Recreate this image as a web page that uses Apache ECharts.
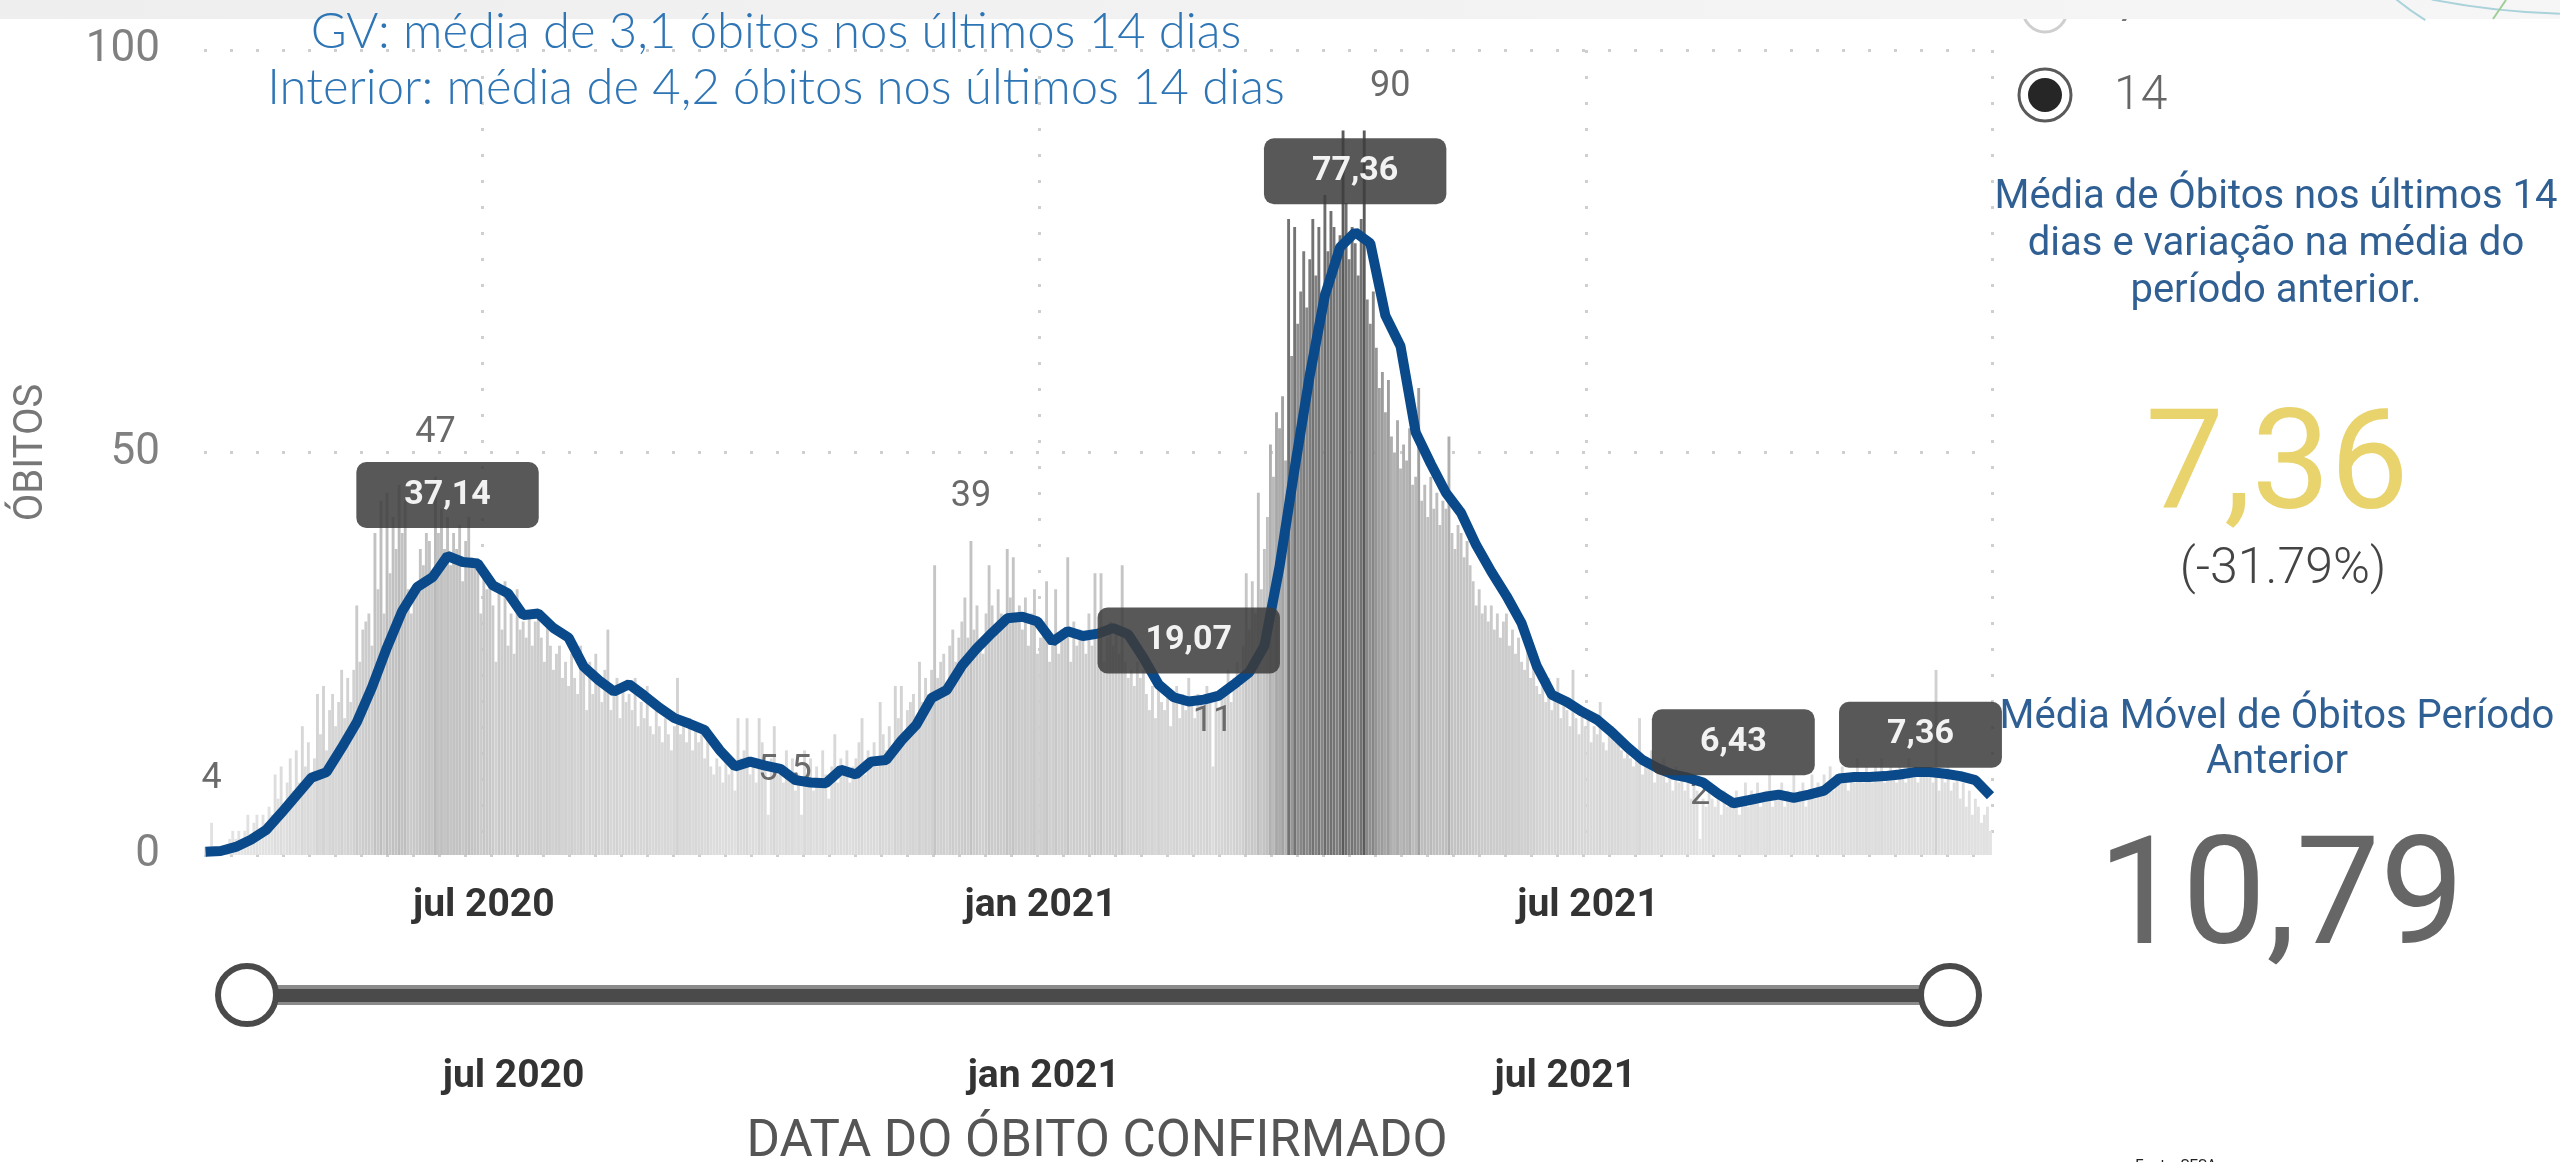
<!DOCTYPE html>
<html>
<head>
<meta charset="utf-8">
<title>Óbitos confirmados - média móvel 14 dias</title>
<script src="https://cdn.jsdelivr.net/npm/echarts@6/dist/echarts.min.js"></script>
<style>
  html, body { margin: 0; padding: 0; background: #fff; }
  #chart { width: 2560px; height: 1162px; }
</style>
</head>
<body>
<div id="chart"></div>
<script>
// first day of the series, one bar per day from here
const firstDay = '2020-03-31'
const monthNames = ['jan', 'fev', 'mar', 'abr', 'mai', 'jun', 'jul', 'ago', 'set', 'out', 'nov', 'dez']
const tickMonths = ['01', '07']

// daily confirmed deaths
const deaths = [
  1, 0, 4, 1, 0, 0, 1, 1, 2, 3,
  2, 3, 1, 3, 5, 2, 4, 5, 3, 5,
  4, 6, 5, 10, 7, 11, 6, 9, 12, 8,
  13, 9, 16, 11, 14, 10, 12, 20, 15, 21,
  13, 18, 20, 16, 19, 23, 17, 22, 19, 23,
  31, 24, 28, 29, 30, 26, 40, 33, 44, 30,
  45, 35, 42, 38, 46, 40, 44, 33, 30, 33,
  33, 38, 36, 40, 39, 35, 47, 40, 43, 38,
  42, 36, 40, 38, 41, 34, 39, 42, 37, 36,
  36, 30, 35, 33, 34, 31, 24, 33, 28, 34,
  26, 30, 25, 33, 28, 29, 27, 30, 26, 29,
  30, 27, 24, 29, 26, 23, 25, 26, 22, 24,
  21, 25, 22, 20, 26, 23, 18, 24, 20, 25,
  22, 19, 23, 28, 18, 20, 22, 17, 21, 19,
  20, 18, 22, 16, 19, 17, 21, 16, 15, 18,
  16, 14, 17, 15, 13, 16, 22, 15, 17, 14,
  17, 13, 16, 14, 15, 12, 16, 11, 10, 12,
  11, 9, 12, 10, 11, 8, 17, 12, 13, 17,
  10, 12, 9, 17, 14, 11, 5, 12, 16, 10,
  11, 9, 13, 10, 12, 8, 10, 5, 13, 9,
  12, 8, 11, 9, 13, 10, 7, 11, 15, 9,
  12, 10, 13, 9, 11, 12, 14, 17, 10, 13,
  12, 14, 11, 19, 15, 13, 16, 12, 21, 17,
  21, 15, 18, 19, 20, 17, 24, 19, 22, 20,
  23, 36, 22, 24, 25, 21, 26, 28, 24, 27,
  29, 32, 27, 39, 28, 31, 26, 25, 30, 36,
  31, 28, 33, 30, 29, 38, 32, 37, 29, 31,
  28, 32, 26, 30, 33, 25, 27, 29, 34, 24,
  26, 33, 25, 28, 27, 37, 24, 29, 26, 28,
  27, 25, 30, 26, 35, 28, 35, 24, 27, 29,
  26, 28, 25, 36, 24, 22, 23, 21, 24, 22,
  23, 20, 18, 21, 17, 22, 19, 18, 20, 16,
  19, 21, 17, 20, 18, 22, 19, 17, 20, 19,
  18, 21, 19, 11, 20, 18, 20, 21, 23, 19,
  22, 24, 21, 26, 35, 28, 34, 30, 45, 33,
  38, 42, 51, 47, 55, 53, 57, 49, 79, 62,
  78, 66, 70, 75, 68, 74, 79, 72, 78, 70,
  82, 75, 80, 78, 73, 77, 90, 81, 74, 78,
  76, 72, 79, 90, 69, 66, 70, 63, 58, 60,
  55, 59, 52, 50, 54, 48, 51, 49, 53, 46,
  47, 58, 44, 46, 42, 47, 43, 45, 41, 44,
  43, 52, 40, 38, 41, 40, 37, 39, 36, 34,
  31, 33, 30, 31, 29, 31, 28, 30, 27, 29,
  30, 26, 28, 25, 27, 24, 23, 26, 22, 24,
  21, 20, 22, 19, 22, 18, 20, 22, 17, 19,
  18, 16, 23, 17, 15, 18, 16, 17, 14, 16,
  15, 19, 14, 13, 15, 16, 14, 15, 13, 12,
  14, 12, 11, 13, 17, 10, 12, 11, 13, 9,
  11, 10, 12, 9, 10, 8, 11, 9, 10, 8,
  9, 7, 10, 8, 2, 7, 6, 8, 7, 6,
  7, 5, 8, 6, 7, 6, 8, 5, 7, 9,
  6, 8, 7, 9, 6, 7, 8, 10, 6, 8,
  7, 9, 6, 8, 7, 10, 7, 8, 9, 6,
  8, 10, 7, 9, 8, 10, 9, 11, 8, 10,
  9, 11, 10, 8, 10, 9, 12, 10, 9, 11,
  10, 9, 11, 10, 12, 9, 10, 11, 10, 9,
  11, 10, 9, 12, 10, 11, 9, 10, 11, 10,
  10, 9, 23, 8, 10, 9, 11, 8, 9, 10,
  7, 9, 6, 8, 5, 7, 6, 4, 5, 6,
  3
]

// 14-day moving average, read every 5th day
const avgStep = 5
const avg14 = [
  0.4, 0.5, 1.0, 1.9, 3.1, 5.2, 7.4, 9.6, 10.3, 13.3,
  16.5, 20.8, 25.8, 30.3, 33.3, 34.5, 37.14, 36.4, 36.2, 33.5,
  32.5, 29.8, 30.0, 28.2, 27.0, 23.4, 21.7, 20.3, 21.2, 19.8,
  18.3, 17.0, 16.3, 15.5, 13.0, 11.0, 11.6, 11.1, 10.7, 9.3,
  9.0, 8.9, 10.6, 10.0, 11.6, 11.8, 14.2, 16.2, 19.5, 20.5,
  23.5, 25.7, 27.6, 29.4, 29.6, 29.0, 26.5, 27.8, 27.2, 27.5,
  28.2, 27.4, 24.5, 21.2, 19.6, 19.07, 19.3, 19.8, 21.2, 22.7,
  26.0, 35.8, 48.0, 59.6, 69.5, 75.5, 77.36, 76.0, 67.0, 63.2,
  52.5, 48.6, 45.0, 42.5, 38.5, 35.2, 32.2, 28.8, 23.5, 19.9,
  19.0, 17.8, 16.8, 15.2, 13.4, 11.8, 10.8, 10.0, 9.6, 9.0,
  7.6, 6.43, 6.8, 7.2, 7.5, 7.1, 7.5, 8.0, 9.5, 9.7,
  9.7, 9.8, 10.0, 10.3, 10.3, 10.1, 9.8, 9.3, 7.36
]

// which bars / average points carry a data label
const labeledBars = [2, 76, 186, 197, 253, 333, 383, 494]
const labeledAvg = [16, 65, 76, 101, 118]

const FONT = 'Roboto, "DejaVu Sans", sans-serif'

const days = []
const start = new Date(firstDay + 'T00:00:00Z').getTime()
for (let i = 0; i < deaths.length; i++) {
  days.push(new Date(start + i * 86400000).toISOString().slice(0, 10))
}

function isTick(idx, val) {
  return val.slice(8) === '01' && tickMonths.includes(val.slice(5, 7))
}
function tickLabel(val) {
  return monthNames[+val.slice(5, 7) - 1] + ' ' + val.slice(0, 4)
}
function ptNumber(v) {
  return v.toFixed(2).replace('.', ',')
}

const barData = deaths.map((v, i) => {
  if (!labeledBars.includes(i)) return v
  const item = { value: v, label: { show: true } }
  // the max label sits a little right of its bar in the original
  if (v === 90) item.label.offset = [26, 0]
  return item
})
const lastAvg = avg14.length - 1
const lineData = avg14.map((v, i) => {
  const item = { value: [days[i * avgStep], v] }
  if (labeledAvg.includes(i)) {
    item.label = { show: true, formatter: ptNumber(v) }
    if (i === lastAvg) item.label.offset = [-70, 0]
  }
  return item
})

const dotted = { color: '#cfcfcf', width: 3, type: [3, 23] }

const chart = echarts.init(document.getElementById('chart'))

const option = {
  animation: false,
  backgroundColor: '#fff',
  grid: [
    { left: 204, right: 568, top: 50, bottom: 307 },
    { left: 247, right: 610, top: 994, height: 1 }
  ],
  visualMap: {
    show: false,
    type: 'continuous',
    seriesIndex: 0,
    dimension: 1,
    min: 0,
    max: 90,
    inRange: { color: ['#e6e6e6', '#bdbdbd', '#5a5a5a'] }
  },
  xAxis: [
    {
      type: 'category',
      gridIndex: 0,
      data: days,
      axisLine: { show: false },
      axisTick: { show: false },
      axisLabel: {
        interval: isTick,
        formatter: tickLabel,
        fontSize: 39,
        fontWeight: 'bold',
        color: '#333',
        margin: 32,
        fontFamily: FONT
      },
      splitLine: { show: true, interval: isTick, lineStyle: dotted }
    },
    {
      type: 'category',
      gridIndex: 1,
      data: days,
      z: 10,
      axisLine: { show: true, lineStyle: { color: '#4a4a4a', width: 13 } },
      axisTick: { show: false },
      axisLabel: {
        interval: isTick,
        formatter: tickLabel,
        fontSize: 39,
        fontWeight: 'bold',
        color: '#333',
        margin: 63,
        fontFamily: FONT
      },
      splitLine: { show: false }
    }
  ],
  yAxis: [
    {
      type: 'value',
      gridIndex: 0,
      min: 0,
      max: 100,
      interval: 50,
      name: 'ÓBITOS',
      nameLocation: 'middle',
      nameRotate: 90,
      nameGap: 152,
      nameTextStyle: { fontSize: 40, color: '#777', fontFamily: FONT },
      axisLine: { show: false },
      axisTick: { show: false },
      axisLabel: { fontSize: 44, color: '#808080', margin: 44, fontFamily: FONT },
      splitLine: { lineStyle: dotted }
    },
    { type: 'value', gridIndex: 1, show: false }
  ],
  series: [
    {
      type: 'bar',
      xAxisIndex: 0,
      yAxisIndex: 0,
      data: barData,
      barCategoryGap: '5%',
      z: 1,
      label: {
        show: false,
        position: 'top',
        distance: 26,
        color: '#6a6a6a',
        fontSize: 36,
        fontFamily: FONT
      }
    },
    {
      type: 'line',
      xAxisIndex: 0,
      yAxisIndex: 0,
      data: lineData,
      symbol: 'circle',
      symbolSize: 0,
      showSymbol: true,
      showAllSymbol: true,
      z: 3,
      lineStyle: { color: '#0a4a8a', width: 10 },
      itemStyle: { color: '#0a4a8a' },
      label: {
        show: false,
        position: 'top',
        distance: 28,
        backgroundColor: 'rgba(60,60,60,0.86)',
        borderRadius: 10,
        padding: [16, 48],
        color: '#f2f2f2',
        fontSize: 34,
        fontWeight: 'bold',
        fontFamily: FONT
      }
    }
  ],
  graphic: [
    // radio button "7", mostly hidden under the top band
    { type: 'circle', z: 1, shape: { cx: 2045, cy: 10, r: 22 }, style: { fill: '#fff', stroke: '#cfcfcf', lineWidth: 3 } },
    { type: 'text', z: 1, x: 2116, y: 10, style: { text: '7', fontSize: 44, fontFamily: FONT, fill: '#777', verticalAlign: 'middle', textVerticalAlign: 'middle' } },
    // top band
    {
      type: 'rect', z: 2,
      shape: { x: 0, y: 0, width: 2560, height: 19 },
      style: {
        fill: new echarts.graphic.LinearGradient(0, 0, 1, 0, [
          { offset: 0, color: '#eeeeee' },
          { offset: 1, color: '#f6f6f6' }
        ])
      }
    },
    { type: 'arc', z: 3, shape: { cx: 2560, cy: -200, r: 258, startAngle: 2.12, endAngle: 2.26 }, style: { stroke: '#a9d2da', lineWidth: 2, fill: null } },
    { type: 'arc', z: 3, shape: { cx: 2580, cy: -754, r: 768, startAngle: 1.597, endAngle: 1.765 }, style: { stroke: '#a9d2da', lineWidth: 2, fill: null } },
    { type: 'line', z: 3, shape: { x1: 2493, y1: 19, x2: 2506, y2: 0 }, style: { stroke: '#9fce9a', lineWidth: 2 } },
    // title
    {
      type: 'text', z: 5, x: 776, y: 60,
      style: {
        text: 'GV: média de 3,1 óbitos nos últimos 14 dias\nInterior: média de 4,2 óbitos nos últimos 14 dias',
        fontSize: 49, fontWeight: 300, fontFamily: 'Lato, "Open Sans", sans-serif',
        fill: '#2e75b6', lineHeight: 56,
        align: 'center', textAlign: 'center', verticalAlign: 'middle', textVerticalAlign: 'middle'
      }
    },
    // selected radio "14"
    { type: 'circle', z: 5, shape: { cx: 2045, cy: 95, r: 26 }, style: { fill: '#fff', stroke: '#5a5a5a', lineWidth: 3 } },
    { type: 'circle', z: 6, shape: { cx: 2045, cy: 95, r: 17 }, style: { fill: '#262626' } },
    { type: 'text', z: 5, x: 2114, y: 97, style: { text: '14', fontSize: 48, fontWeight: 300, fontFamily: FONT, fill: '#666', verticalAlign: 'middle', textVerticalAlign: 'middle' } },
    // right-hand cards
    {
      type: 'text', z: 5, x: 2276, y: 245,
      style: {
        text: 'Média de Óbitos nos últimos 14\ndias e variação na média do\nperíodo anterior.',
        fontSize: 40, fontFamily: FONT, fill: '#2f5f93', lineHeight: 47,
        align: 'center', textAlign: 'center', verticalAlign: 'middle', textVerticalAlign: 'middle'
      }
    },
    {
      type: 'text', z: 5, x: 2277, y: 473,
      style: {
        text: '7,36', fontSize: 140, fontFamily: FONT, fill: '#e8d36c',
        align: 'center', textAlign: 'center', verticalAlign: 'middle', textVerticalAlign: 'middle'
      }
    },
    {
      type: 'text', z: 5, x: 2283, y: 570,
      style: {
        text: '(-31.79%)', fontSize: 50, fontWeight: 300, fontFamily: FONT, fill: '#444',
        align: 'center', textAlign: 'center', verticalAlign: 'middle', textVerticalAlign: 'middle'
      }
    },
    {
      type: 'text', z: 5, x: 2277, y: 740,
      style: {
        text: 'Média Móvel de Óbitos Período\nAnterior',
        fontSize: 40, fontFamily: FONT, fill: '#2f5f93', lineHeight: 45,
        align: 'center', textAlign: 'center', verticalAlign: 'middle', textVerticalAlign: 'middle'
      }
    },
    {
      type: 'text', z: 5, x: 2281, y: 905,
      style: {
        text: '10,79', fontSize: 150, fontFamily: FONT, fill: '#666',
        align: 'center', textAlign: 'center', verticalAlign: 'middle', textVerticalAlign: 'middle'
      }
    },
    {
      type: 'text', z: 5, x: 2176, y: 1166,
      style: {
        text: 'Fonte: SESA', fontSize: 15, fontFamily: FONT, fill: '#222',
        align: 'center', textAlign: 'center', verticalAlign: 'middle', textVerticalAlign: 'middle'
      }
    },
    // date slider
    { type: 'rect', z: 0, shape: { x: 247, y: 985, width: 1703, height: 20 }, style: { fill: '#8a8a8a' } },
    { type: 'circle', z: 20, shape: { cx: 247, cy: 995, r: 29 }, style: { fill: '#fff', stroke: '#4a4a4a', lineWidth: 6 } },
    { type: 'circle', z: 20, shape: { cx: 1950, cy: 995, r: 29 }, style: { fill: '#fff', stroke: '#4a4a4a', lineWidth: 6 } },
    {
      type: 'text', z: 5, x: 1097, y: 1143,
      style: {
        text: 'DATA DO ÓBITO CONFIRMADO', fontSize: 51, fontFamily: FONT, fill: '#555',
        align: 'center', textAlign: 'center', verticalAlign: 'middle', textVerticalAlign: 'middle'
      }
    }
  ]
}

chart.setOption(option)
window.addEventListener('resize', function () {
  chart.resize()
})
</script>
</body>
</html>
